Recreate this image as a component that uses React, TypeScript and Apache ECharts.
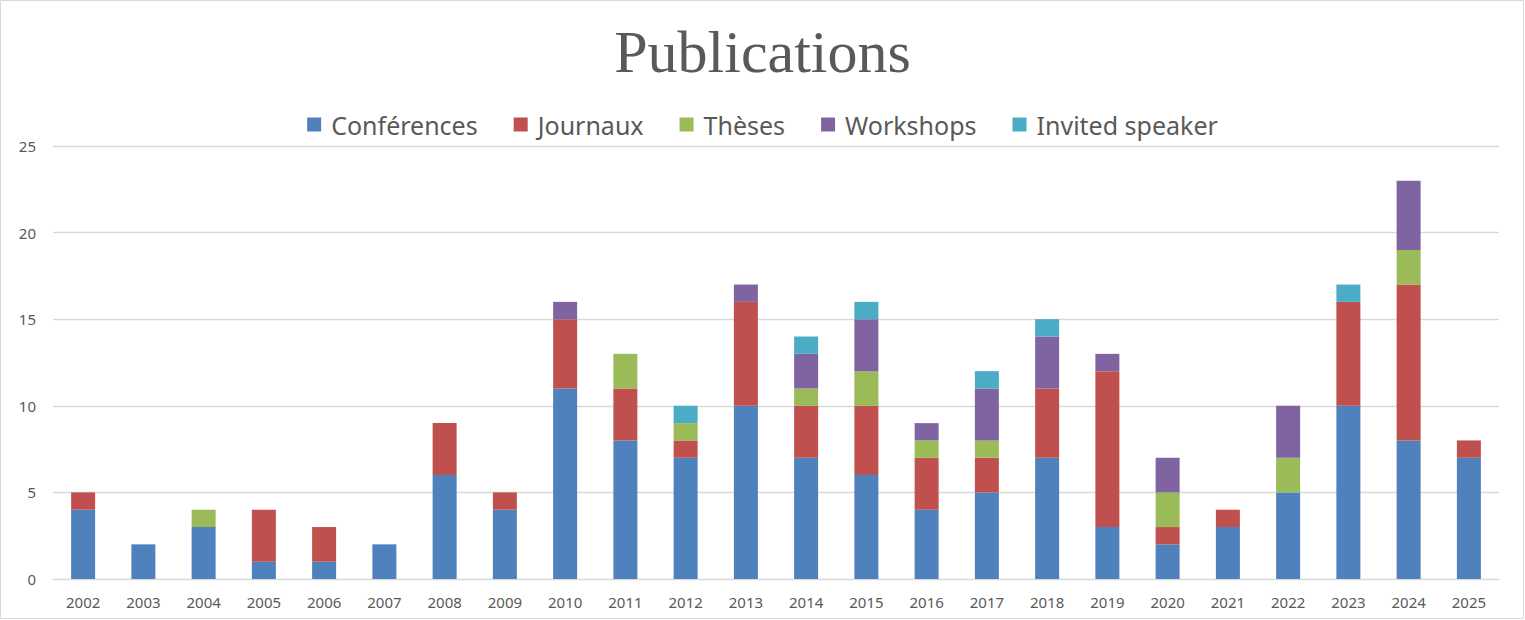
import React, { useEffect, useRef } from "react";
import * as echarts from "echarts";

const years = ["2002","2003","2004","2005","2006","2007","2008","2009","2010","2011","2012","2013","2014","2015","2016","2017","2018","2019","2020","2021","2022","2023","2024","2025"];
const conferences = [4,2,3,1,1,2,6,4,11,8,7,10,7,6,4,5,7,3,2,3,5,10,8,7];
const journaux = [1,0,0,3,2,0,3,1,4,3,1,6,3,4,3,2,4,9,1,1,0,6,9,1];
const theses = [0,0,1,0,0,0,0,0,0,2,1,0,1,2,1,1,0,0,2,0,2,0,2,0];
const workshops = [0,0,0,0,0,0,0,0,1,0,0,1,2,3,1,3,3,1,2,0,3,0,4,0];
const invited = [0,0,0,0,0,0,0,0,0,0,1,0,1,1,0,1,1,0,0,0,0,1,0,0];

const seriesDefs = [
  { name: "Conférences", data: conferences, color: "#4F81BD" },
  { name: "Journaux", data: journaux, color: "#C0504D" },
  { name: "Thèses", data: theses, color: "#9BBB59" },
  { name: "Workshops", data: workshops, color: "#8064A2" },
  { name: "Invited speaker", data: invited, color: "#4BACC6" },
];

export default function App() {
  const ref = useRef<HTMLDivElement>(null);
  useEffect(() => {
    document.body.style.margin = "0";
    if (!ref.current) return;
    const chart = echarts.init(ref.current, null, { renderer: "svg" });
    chart.setOption({
      animation: false,
      backgroundColor: "#ffffff",
      title: {
        text: "Publications",
        left: "center",
        top: 17,
        textStyle: {
          fontFamily: "Liberation Serif",
          fontSize: 60,
          fontWeight: "normal",
          color: "#595959",
        },
      },
      legend: {
        top: 107,
        left: "center",
        itemWidth: 14,
        itemHeight: 14,
        itemGap: 36,
        icon: "rect",
        textStyle: {
          fontFamily: "Noto Sans",
          fontSize: 25,
          color: "#595959",
          padding: [0, 0, 0, 5],
        },
      },
      grid: { left: 53, right: 26, top: 146, bottom: 41, containLabel: false },
      xAxis: {
        type: "category",
        data: years,
        axisLine: { lineStyle: { color: "#d9d9d9", width: 1 } },
        axisTick: { show: false },
        axisLabel: {
          fontFamily: "Noto Sans",
          fontSize: 15,
          color: "#595959",
          margin: 15,
        },
      },
      yAxis: {
        type: "value",
        min: 0,
        max: 25,
        interval: 5,
        axisLine: { show: false },
        axisTick: { show: false },
        splitLine: { lineStyle: { color: "#d9d9d9", width: 1.3 } },
        axisLabel: {
          fontFamily: "Noto Sans",
          fontSize: 15,
          color: "#595959",
          margin: 17,
        },
      },
      series: seriesDefs.map((s) => ({
        name: s.name,
        type: "bar",
        stack: "total",
        barWidth: 24,
        data: s.data,
        itemStyle: { color: s.color },
      })),
      graphic: [
        {
          type: "rect",
          shape: { x: 0.5, y: 0.5, width: 1523, height: 618 },
          style: { fill: "none", stroke: "#d9d9d9", lineWidth: 1 },
          silent: true,
        },
      ],
    });
    return () => chart.dispose();
  }, []);
  return <div ref={ref} style={{ width: 1525, height: 620 }} />;
}
